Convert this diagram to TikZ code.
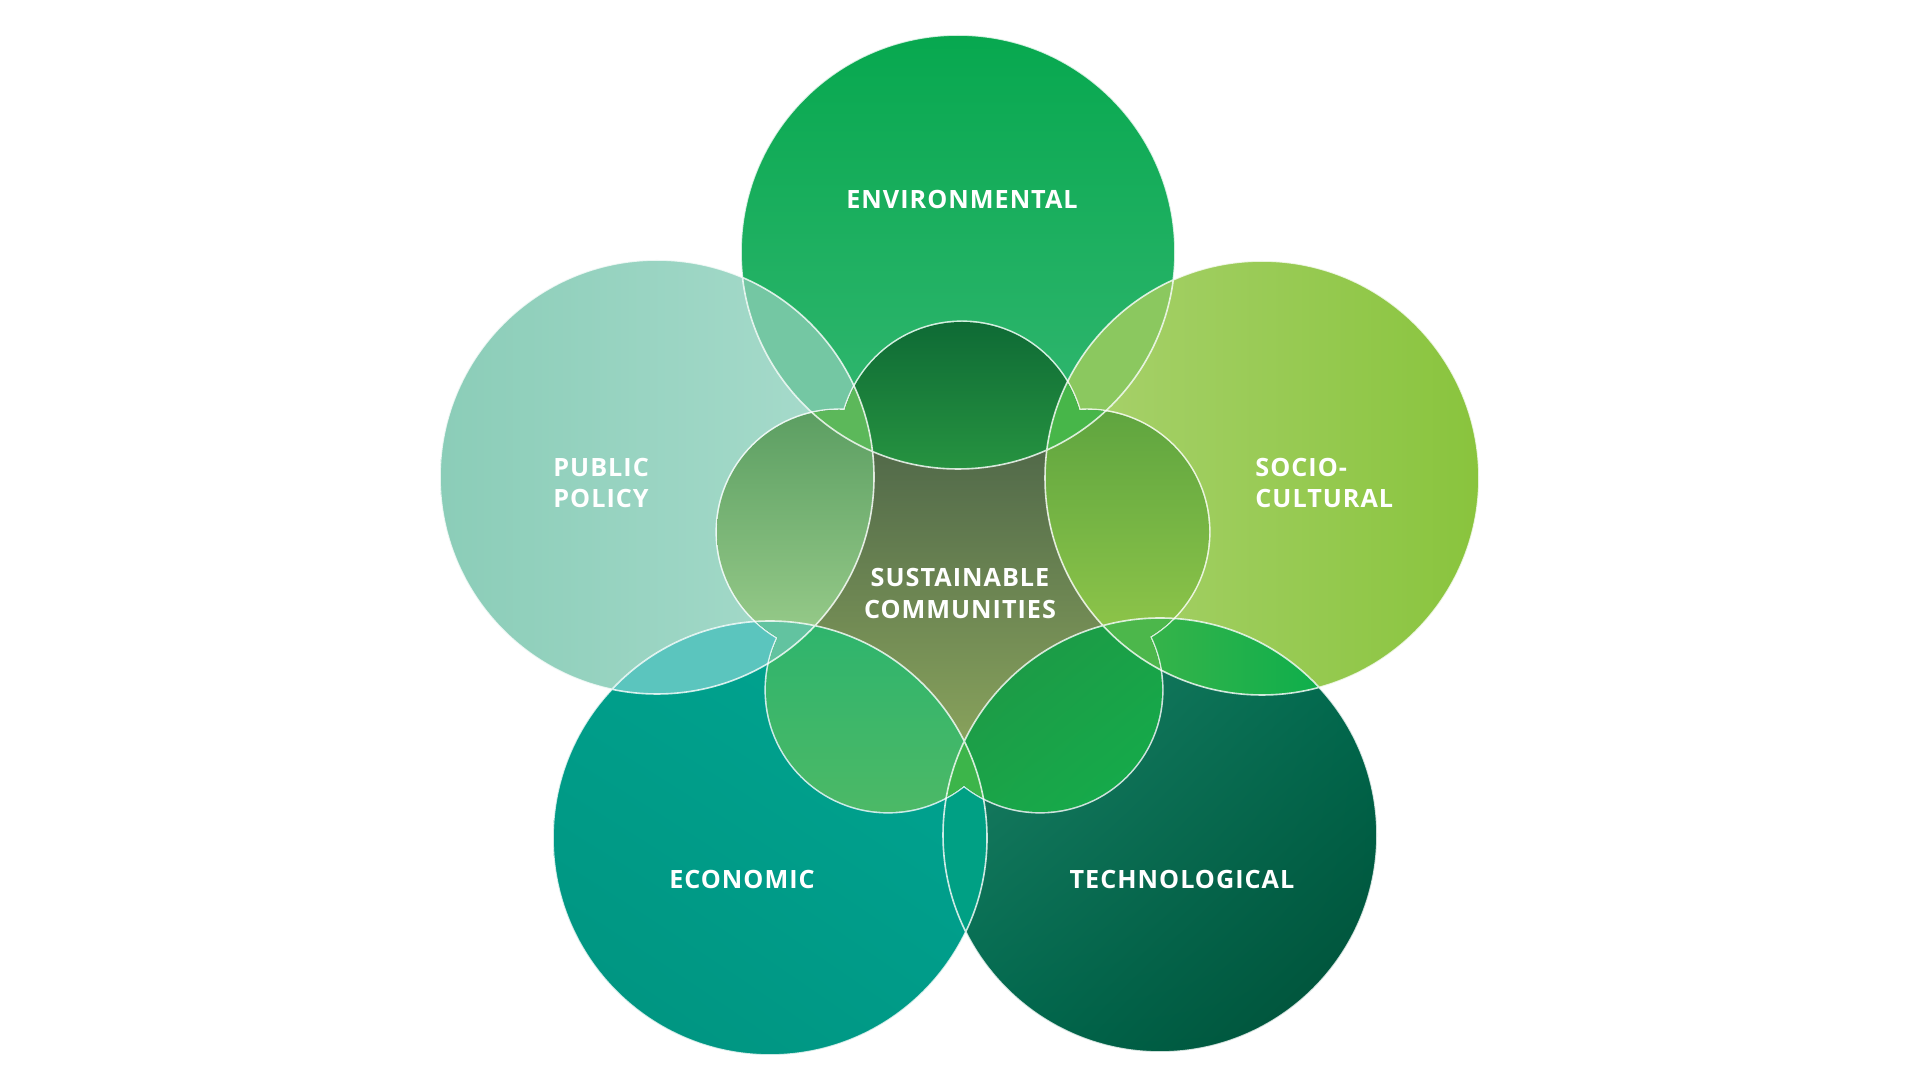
\documentclass[tikz,border=0pt]{standalone}
\usepackage{fontspec}
\setmainfont{Open Sans}
\newfontfamily\labfont[LetterSpace=4]{Open Sans}
\usetikzlibrary{shadings}

\definecolor{olA}{HTML}{506849}
\definecolor{olB}{HTML}{89A35C}
\definecolor{envT}{HTML}{07A84F}
\definecolor{envB}{HTML}{36B873}
\definecolor{pubL}{HTML}{8BCDB8}
\definecolor{pubR}{HTML}{A9DCCD}
\definecolor{socL}{HTML}{AAD26F}
\definecolor{socR}{HTML}{89C43D}
\definecolor{ecoUL}{HTML}{009F8B}
\definecolor{ecoUR}{HTML}{00A693}
\definecolor{ecoLL}{HTML}{00937F}
\definecolor{ecoLR}{HTML}{009B88}
\definecolor{tecUL}{HTML}{248469}
\definecolor{tecUR}{HTML}{006C50}
\definecolor{tecLL}{HTML}{006A4F}
\definecolor{tecLR}{HTML}{004E36}
\definecolor{pEP}{HTML}{74C7A3}
\definecolor{pES}{HTML}{8BC85F}
\definecolor{pPC}{HTML}{5BC5BE}
\definecolor{pSTl}{HTML}{42B54A}
\definecolor{pSTr}{HTML}{0DAE4B}
\definecolor{pCT}{HTML}{00A084}
\definecolor{iEt}{HTML}{0E6A35}
\definecolor{iEb}{HTML}{289641}
\definecolor{iPt}{HTML}{5A9D61}
\definecolor{iPm}{HTML}{82C584}
\definecolor{iPb}{HTML}{A7D794}
\definecolor{iSt}{HTML}{5EA43F}
\definecolor{iSm}{HTML}{7DC143}
\definecolor{iSb}{HTML}{9BCE4C}
\definecolor{iCt}{HTML}{2DB46D}
\definecolor{iCb}{HTML}{4DB966}
\definecolor{iTul}{HTML}{1F9346}
\definecolor{iTur}{HTML}{1AA147}
\definecolor{iTll}{HTML}{1CA348}
\definecolor{iTlr}{HTML}{12AE4B}
\definecolor{qEP}{HTML}{5CB85A}
\definecolor{qES}{HTML}{47B649}
\definecolor{qPC}{HTML}{62C3A0}
\definecolor{qST}{HTML}{4CB74B}
\definecolor{qCT}{HTML}{3CB54A}

\tikzset{
  bigline/.style={draw=white, draw opacity=0.8, line width=0.8pt},
  innerline/.style={draw=white, draw opacity=0.8, line width=1.6pt},
  lab/.style={text=white, font=\labfont\bfseries\fontsize{12.6}{15}\selectfont, inner sep=0pt}
}

\begin{document}
\begin{tikzpicture}[x=0.5pt,y=0.5pt]
\useasboundingbox (0,0) rectangle (1920,1080);
\fill[white] (0,0) rectangle (1920,1080);

% centres of the five big circles
\coordinate (E) at (958,828);
\coordinate (P) at (657,603);
\coordinate (S) at (1262,602);
\coordinate (C) at (770,242);
\coordinate (T) at (1160,245);
% centres of the five inner circles
\coordinate (iE) at (962,636);
\coordinate (iP) at (839,548);
\coordinate (iS) at (1087,548);
\coordinate (iC) at (888,390);
\coordinate (iT) at (1040,390);

% central region
\shade[top color=olA, bottom color=olB] (800,330) rectangle (1120,640);

% big circles
\shade[left color=pubL, right color=pubR] (P) circle (217);
\shade[left color=socL, right color=socR] (S) circle (217);
\shade[top color=envT, bottom color=envB] (E) circle (217);
\shade[upper left=ecoUL, upper right=ecoUR, lower left=ecoLL, lower right=ecoLR] (C) circle (217);
\shade[upper left=tecUL, upper right=tecUR, lower left=tecLL, lower right=tecLR] (T) circle (217);

% overlaps of neighbouring big circles
\begin{scope}\clip (E) circle (217); \fill[pEP] (P) circle (217);\end{scope}
\begin{scope}\clip (E) circle (217); \fill[pES] (S) circle (217);\end{scope}
\begin{scope}\clip (P) circle (217); \fill[pPC] (C) circle (217);\end{scope}
\begin{scope}\clip (S) circle (217); \clip (T) circle (217);
  \shade[left color=pSTl, right color=pSTr] (1095,370) rectangle (1325,490);\end{scope}
\begin{scope}\clip (C) circle (217); \fill[pCT] (T) circle (217);\end{scope}

% outline of the inner flower
\begin{scope}
  \clip (E) circle (217) (P) circle (217) (S) circle (217) (C) circle (217) (T) circle (217);
  \path[innerline] (iE) circle (122) (iP) circle (122) (iS) circle (122) (iC) circle (122) (iT) circle (122);
\end{scope}

% inner flower inside each big circle
\begin{scope}\clip (E) circle (217);
  \clip (iE) circle (122) (iP) circle (122) (iS) circle (122) (iC) circle (122) (iT) circle (122);
  \shade[top color=iEt, bottom color=iEb] (820,600) rectangle (1105,760);\end{scope}
\begin{scope}\clip (P) circle (217);
  \clip (iE) circle (122) (iP) circle (122) (iS) circle (122) (iC) circle (122) (iT) circle (122);
  \shade[top color=iPt, middle color=iPm, bottom color=iPb] (700,380) rectangle (885,675);\end{scope}
\begin{scope}\clip (S) circle (217);
  \clip (iE) circle (122) (iP) circle (122) (iS) circle (122) (iC) circle (122) (iT) circle (122);
  \shade[top color=iSt, middle color=iSm, bottom color=iSb] (1035,380) rectangle (1215,675);\end{scope}
\begin{scope}\clip (C) circle (217);
  \clip (iE) circle (122) (iP) circle (122) (iS) circle (122) (iC) circle (122) (iT) circle (122);
  \shade[top color=iCt, bottom color=iCb] (750,260) rectangle (1000,465);\end{scope}
\begin{scope}\clip (T) circle (217);
  \clip (iE) circle (122) (iP) circle (122) (iS) circle (122) (iC) circle (122) (iT) circle (122);
  \shade[upper left=iTul, upper right=iTur, lower left=iTll, lower right=iTlr] (935,260) rectangle (1170,465);\end{scope}

% inner flower inside the overlaps
\begin{scope}\clip (E) circle (217); \clip (P) circle (217);
  \fill[qEP] (iE) circle (122) (iP) circle (122) (iS) circle (122) (iC) circle (122) (iT) circle (122);\end{scope}
\begin{scope}\clip (E) circle (217); \clip (S) circle (217);
  \fill[qES] (iE) circle (122) (iP) circle (122) (iS) circle (122) (iC) circle (122) (iT) circle (122);\end{scope}
\begin{scope}\clip (P) circle (217); \clip (C) circle (217);
  \fill[qPC] (iE) circle (122) (iP) circle (122) (iS) circle (122) (iC) circle (122) (iT) circle (122);\end{scope}
\begin{scope}\clip (S) circle (217); \clip (T) circle (217);
  \fill[qST] (iE) circle (122) (iP) circle (122) (iS) circle (122) (iC) circle (122) (iT) circle (122);\end{scope}
\begin{scope}\clip (C) circle (217); \clip (T) circle (217);
  \fill[qCT] (iE) circle (122) (iP) circle (122) (iS) circle (122) (iC) circle (122) (iT) circle (122);\end{scope}

% outlines of the big circles
\path[bigline] (E) circle (217) (P) circle (217) (S) circle (217) (C) circle (217) (T) circle (217);

% labels
\node[lab, anchor=base] (tEnv) at (962,871.7) {ENVIRONMENTAL};
\node[lab, anchor=base west] (tPub1) at (553,603.3) {PUBLIC};
\node[lab, anchor=base west] (tPub2) at (553,572.3) {POLICY};
\node[lab, anchor=base west] (tSoc1) at (1255,603.3) {SOCIO-};
\node[lab, anchor=base west] (tSoc2) at (1255,572.3) {CULTURAL};
\node[lab, anchor=base] (tSus1) at (960,493.5) {SUSTAINABLE};
\node[lab, anchor=base] (tSus2) at (960,461.5) {COMMUNITIES};
\node[lab, anchor=base] (tEco) at (742,191.5) {ECONOMIC};
\node[lab, anchor=base] (tTec) at (1182,191.5) {TECHNOLOGICAL};
\end{tikzpicture}
\end{document}
